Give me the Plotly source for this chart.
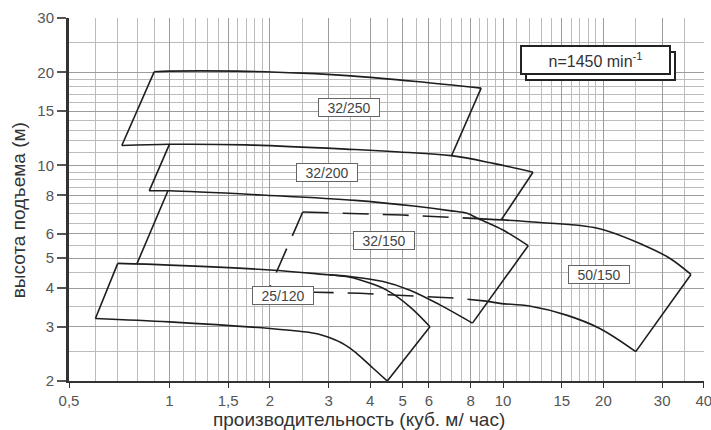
import numpy as np
import plotly.graph_objects as go

# ---- axis ticks / grid ----
x_ticks = [0.5, 1, 1.5, 2, 3, 4, 5, 6, 8, 10, 15, 20, 30, 40]
x_ticktext = ['0,5', '1', '1,5', '2', '3', '4', '5', '6', '8', '10', '15', '20', '30', '40']
x_minor = [0.6, 0.7, 0.8, 0.9, 1.1, 1.2, 1.3, 1.4, 1.6, 1.7, 1.8, 1.9, 2.5, 3.5, 4.5,
           5.5, 6.5, 7, 7.5, 8.5, 9, 9.5, 11, 12, 13, 14, 16, 17, 18, 19, 25, 35]
y_ticks = [2, 3, 4, 5, 6, 8, 10, 15, 20, 30]
y_minor = [2.5, 3.5, 4.5, 5.5, 6.5, 7, 7.5, 8.5, 9, 9.5, 11, 12, 13, 14, 16, 17, 18, 19, 25]

# ---- pump curves (Q m3/h, H m) ----
# 32/250
q250_top = [0.90, 1.0, 1.6, 2.5, 3.5, 5.5, 8.6]
h250_top = [20.1, 20.2, 20.2, 19.9, 19.5, 18.7, 17.8]
q250_left = [0.72, 0.90]
h250_left = [11.6, 20.1]
q250_right = [8.6, 7.0]
h250_right = [17.8, 10.7]
# 32/250 min impeller == 32/200 max impeller
q200_top = [0.72, 1.0, 1.7, 3.6, 4.9, 7.0, 9.35, 12.3]
h200_top = [11.6, 11.7, 11.65, 11.25, 11.05, 10.75, 10.15, 9.5]
q200_left = [0.87, 1.0]
h200_left = [8.27, 11.7]
q200_right = [12.3, 9.9]
h200_right = [9.5, 6.68]
# 32/200 min impeller == 32/150 max impeller
q150_top = [0.87, 1.0, 1.95, 3.6, 5.4, 7.0, 7.8, 8.35, 10.0, 11.9]
h150_top = [8.27, 8.27, 8.0, 7.7, 7.38, 7.12, 6.99, 6.75, 6.17, 5.49]
q150_left = [0.80, 0.99]
h150_left = [4.81, 8.27]
q150_right = [11.9, 8.1]
h150_right = [5.49, 3.08]
# 32/150 min impeller (shared with 25/120 max at the left)
q150_bot = [0.70, 1.0, 2.0, 3.0, 3.48, 4.37, 5.26, 6.47, 8.1]
h150_bot = [4.81, 4.75, 4.58, 4.42, 4.36, 4.2, 3.94, 3.53, 3.08]
# 25/120
q120_top = [3.0, 3.48, 3.94, 4.48, 5.26, 6.04]
h120_top = [4.42, 4.34, 4.17, 3.94, 3.48, 3.0]
q120_left = [0.60, 0.70]
h120_left = [3.19, 4.81]
q120_bot = [0.60, 1.0, 2.0, 2.52, 2.79, 3.0, 3.36, 3.64, 4.08, 4.5]
h120_bot = [3.19, 3.11, 2.96, 2.89, 2.84, 2.77, 2.62, 2.46, 2.2, 2.0]
q120_right = [4.5, 6.04]
h120_right = [2.0, 3.0]
# 50/150
q50_top_d = [2.51, 5.0, 8.4]
h50_top_d = [7.06, 6.9, 6.72]
q50_top = [8.4, 12.9, 19.2, 26.3, 31.6, 36.6]
h50_top = [6.72, 6.53, 6.25, 5.52, 5.0, 4.43]
q50_right = [36.6, 25.0]
h50_right = [4.43, 2.49]
q50_bot = [8.9, 9.8, 12.0, 15.5, 19.5, 25.0]
h50_bot = [3.63, 3.57, 3.5, 3.27, 2.96, 2.49]
q50_bot_d = [1.97, 2.73, 3.72, 5.44, 7.26, 8.9]
h50_bot_d = [3.88, 3.88, 3.85, 3.77, 3.71, 3.63]
q50_left_d = [2.51, 1.97]
h50_left_d = [7.06, 3.88]

# labels
lab_text = ['32/250', '32/200', '32/150', '50/150', '25/120']
lab_q = [3.45, 2.97, 4.4, 19.4, 2.19]
lab_h = [15.45, 9.51, 5.71, 4.44, 3.79]

FONT = 'Liberation Sans, Arial, sans-serif'
LC = '#1e1e1e'

fig = go.Figure()


def add_line(q, h, curved=False, dashed=False):
    fig.add_trace(go.Scatter(
        x=q, y=h, mode='lines', hoverinfo='skip', showlegend=False,
        line=dict(color=LC, width=1.6,
                  shape='spline' if curved else 'linear', smoothing=1.0,
                  dash='26px,14px' if dashed else 'solid')))


# solid curves
for q, h in [(q250_top, h250_top), (q200_top, h200_top), (q150_top, h150_top),
             (q150_bot, h150_bot), (q120_top, h120_top), (q120_bot, h120_bot),
             (q50_top, h50_top), (q50_bot, h50_bot)]:
    add_line(q, h, curved=True)
# straight edges
for q, h in [(q250_left, h250_left), (q250_right, h250_right), (q200_left, h200_left),
             (q200_right, h200_right), (q150_left, h150_left), (q150_right, h150_right),
             (q120_left, h120_left), (q120_right, h120_right), (q50_right, h50_right)]:
    add_line(q, h)
# dashed parts of 50/150
add_line(q50_top_d, h50_top_d, dashed=True)
add_line(q50_bot_d, h50_bot_d, dashed=True)
add_line(q50_left_d, h50_left_d, dashed=True)

for t, q, h in zip(lab_text, lab_q, lab_h):
    fig.add_annotation(x=np.log10(q), y=np.log10(h), text=t, showarrow=False,
                       bgcolor='white', bordercolor='#666', borderwidth=1, borderpad=1,
                       width=58, height=15, font=dict(size=14, color='#444', family=FONT))

# n=1450 box with shadow
n_q, n_h = 19.0, 21.96
fig.add_annotation(x=np.log10(n_q), y=np.log10(n_h), text=' ', showarrow=False,
                   xshift=5, yshift=-6, bgcolor='white', bordercolor='#222',
                   borderwidth=2, borderpad=1, width=145, height=24)
fig.add_annotation(x=np.log10(n_q), y=np.log10(n_h), text='n=1450 min<sup>-1</sup>',
                   showarrow=False, bgcolor='white', bordercolor='#222',
                   borderwidth=2, borderpad=1, width=145, height=24,
                   font=dict(size=16, color='#333', family=FONT))

# axis titles
fig.add_annotation(xref='paper', yref='paper', x=0.457, y=-0.107, yanchor='middle',
                   text='производительность (куб. м/ час)', showarrow=False,
                   font=dict(size=19, color='#333', family=FONT))
fig.add_annotation(xref='paper', yref='paper', x=-0.08, y=0.471, xanchor='center',
                   yanchor='middle', textangle=-90,
                   text='высота подъема (м)', showarrow=False,
                   font=dict(size=19, color='#333', family=FONT))

fig.update_xaxes(type='log', range=[np.log10(0.5), np.log10(40) + 0.0005],
                 tickmode='array', tickvals=x_ticks, ticktext=x_ticktext,
                 showgrid=True, gridcolor='#9c9c9c', gridwidth=1,
                 minor=dict(tickmode='array', tickvals=x_minor, showgrid=True,
                            gridcolor='#bcbcbc', gridwidth=1, ticks=''),
                 showline=True, linecolor='#333', linewidth=2,
                 ticks='outside', ticklen=5, tickcolor='#333',
                 tickfont=dict(size=15, color='#555', family=FONT), zeroline=False,
                 ticklabeloverflow='allow', automargin=False)
fig.update_yaxes(type='log', range=[np.log10(2), np.log10(30) + 0.0005],
                 tickmode='array', tickvals=y_ticks, ticktext=[str(v) for v in y_ticks],
                 showgrid=True, gridcolor='#9c9c9c', gridwidth=1,
                 minor=dict(tickmode='array', tickvals=y_minor, showgrid=True,
                            gridcolor='#bcbcbc', gridwidth=1, ticks=''),
                 showline=True, linecolor='#333', linewidth=3,
                 ticks='outside', ticklen=9, tickcolor='#555', tickwidth=1.5,
                 tickfont=dict(size=15, color='#555', family=FONT), zeroline=False,
                 automargin=False)

fig.update_layout(width=711, height=430, margin=dict(l=69, r=7, t=18, b=49),
                  paper_bgcolor='white', plot_bgcolor='white', showlegend=False)

# drop the default 8px page margin so the figure sits at the window origin
fig.write_html('out.html', config={'displayModeBar': False},
               post_script="document.body.style.margin='0';")
